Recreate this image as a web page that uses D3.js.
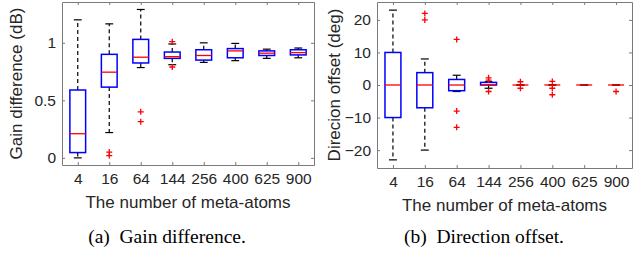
<!DOCTYPE html>
<html>
<head>
<meta charset="utf-8">
<script src="https://cdn.jsdelivr.net/npm/d3@7"></script>
<style>
  body { margin: 0; background: #fff; }
  svg { display: block; }
  .tick text { font-family: "Liberation Sans", Arial, sans-serif; fill: #262626; }
</style>
</head>
<body>
<script>
const categories = ["4", "16", "64", "144", "256", "400", "625", "900"];

// (a) gain difference (dB)
const gainLow  = [0.0, 0.22, 0.785, 0.81, 0.83, 0.845, 0.865, 0.87];
const gainQ1   = [0.046, 0.615, 0.825, 0.865, 0.85, 0.87, 0.89, 0.895];
const gainMed  = [0.21, 0.745, 0.875, 0.88, 0.89, 0.93, 0.91, 0.915];
const gainQ3   = [0.59, 0.9, 1.03, 0.92, 0.94, 0.95, 0.93, 0.94];
const gainHigh = [1.2, 1.165, 1.29, 0.99, 1.0, 0.995, 0.945, 0.955];
const gainOut  = [[], [0.05, 0.02], [0.40, 0.315], [1.01, 0.79], [], [], [], []];
const gainTicks = [0, 0.5, 1];

// (b) direction offset (deg)
const dirLow  = [-23, -20, -2, -1, 0, 0, 0, 0];
const dirQ1   = [-10, -7, -1.75, 0, 0, 0, 0, 0];
const dirMed  = [0, 0, 0, 0, 0, 0, 0, 0];
const dirQ3   = [10, 3.8, 1.7, 0.8, 0, 0, 0, 0];
const dirHigh = [23, 8, 3, 1, 0, 0, 0, 0];
const dirOut  = [[], [22, 20], [14, -8, -13], [2.2, 1.5, -2], [1, -1], [1.1, -1, -3], [], [-2]];
const dirTicks = [-20, -10, 0, 10, 20];

const svg = d3.select("body").append("svg")
  .attr("width", 641)
  .attr("height", 255)
  .style("background", "#fff");

function drawPanel(p) {
  const x = d3.scalePoint().domain(categories).range([p.left, p.right]).padding(0.5);
  const y = d3.scaleLinear().domain(p.domain).range([p.bottom, p.top]);
  const step = x.step();
  const g = svg.append("g");
  const fmt = d3.format("~g");

  // frame + ticks (inward, MATLAB style)
  const axes = [
    [d3.axisBottom(x).tickPadding(8), `translate(0,${p.bottom})`, true],
    [d3.axisTop(x), `translate(0,${p.top})`, false],
    [d3.axisLeft(y).tickValues(p.ticks).tickFormat(fmt).tickPadding(6), `translate(${p.left},0)`, true],
    [d3.axisRight(y).tickValues(p.ticks), `translate(${p.right},0)`, false]
  ];
  axes.forEach(function(a) {
    const ag = g.append("g").attr("transform", a[1])
      .call(a[0].tickSizeInner(-3).tickSizeOuter(0));
    ag.select(".domain").attr("stroke", "#7a7a7a").attr("stroke-width", 1);
    ag.selectAll(".tick line").attr("stroke", "#7a7a7a");
    if (!a[2]) ag.selectAll(".tick text").remove();
    else ag.selectAll(".tick text").attr("font-size", 15.5);
  });

  const data = categories.map(function(c, i) {
    return { c: c, lo: p.low[i], q1: p.q1[i], med: p.med[i], q3: p.q3[i], hi: p.high[i], out: p.out[i] };
  });

  const bw = step * 0.5, cw = step * 0.25;
  const box = g.selectAll(".bx").data(data).enter().append("g").attr("class", "bx");

  // whiskers
  box.append("line")
    .attr("x1", d => x(d.c)).attr("x2", d => x(d.c))
    .attr("y1", d => y(d.q3)).attr("y2", d => y(d.hi))
    .attr("stroke", "#000").attr("stroke-width", 1.2).attr("stroke-dasharray", "4,3");
  box.append("line")
    .attr("x1", d => x(d.c)).attr("x2", d => x(d.c))
    .attr("y1", d => y(d.q1)).attr("y2", d => y(d.lo))
    .attr("stroke", "#000").attr("stroke-width", 1.2).attr("stroke-dasharray", "4,3");
  ["hi", "lo"].forEach(function(k) {
    box.append("line")
      .attr("x1", d => x(d.c) - cw / 2).attr("x2", d => x(d.c) + cw / 2)
      .attr("y1", d => y(d[k])).attr("y2", d => y(d[k]))
      .attr("stroke", "#000").attr("stroke-width", 1.2);
  });

  box.append("rect")
    .attr("x", d => x(d.c) - bw / 2).attr("width", bw)
    .attr("y", d => y(d.q3)).attr("height", d => Math.max(0, y(d.q1) - y(d.q3)))
    .attr("fill", "none").attr("stroke", "#0000ff").attr("stroke-width", 1.5);
  box.append("line")
    .attr("x1", d => x(d.c) - bw / 2).attr("x2", d => x(d.c) + bw / 2)
    .attr("y1", d => y(d.med)).attr("y2", d => y(d.med))
    .attr("stroke", "#ff0000").attr("stroke-width", 1.3);

  // outliers
  box.selectAll(".o").data(d => d.out.map(v => ({ c: d.c, v: v }))).enter()
    .append("path")
    .attr("d", d => `M${x(d.c) - 3},${y(d.v)}h6M${x(d.c)},${y(d.v) - 3}v6`)
    .attr("stroke", "#ff0000").attr("stroke-width", 1.3);

  // labels
  svg.append("text")
    .attr("x", (p.left + p.right) / 2).attr("y", p.bottom + 43)
    .attr("text-anchor", "middle")
    .attr("font-family", "Liberation Sans, Arial, sans-serif").attr("font-size", 17)
    .attr("fill", "#262626")
    .text("The number of meta-atoms");
  svg.append("text")
    .attr("transform", `translate(${p.ylabX},${(p.top + p.bottom) / 2}) rotate(-90)`)
    .attr("text-anchor", "middle")
    .attr("font-family", "Liberation Sans, Arial, sans-serif").attr("font-size", 17)
    .attr("fill", "#262626")
    .text(p.ylabel);
  svg.append("text")
    .attr("x", p.capX).attr("y", 243)
    .attr("text-anchor", "middle")
    .attr("font-family", "Liberation Serif, Times New Roman, serif").attr("font-size", 19.5)
    .attr("fill", "#000")
    .attr("xml:space", "preserve")
    .text(p.caption);
}

drawPanel({
  left: 62, right: 314, top: 2, bottom: 165,
  domain: [-0.062, 1.355], ticks: gainTicks,
  low: gainLow, q1: gainQ1, med: gainMed, q3: gainQ3, high: gainHigh, out: gainOut,
  ylabel: "Gain difference (dB)", ylabX: 22,
  caption: "(a)  Gain difference.", capX: 167
});

drawPanel({
  left: 377, right: 632, top: 2, bottom: 168,
  domain: [-25.5, 25.5], ticks: dirTicks,
  low: dirLow, q1: dirQ1, med: dirMed, q3: dirQ3, high: dirHigh, out: dirOut,
  ylabel: "Direcion offset (deg)", ylabX: 340,
  caption: "(b)  Direction offset.", capX: 484
});
</script>
</body>
</html>
